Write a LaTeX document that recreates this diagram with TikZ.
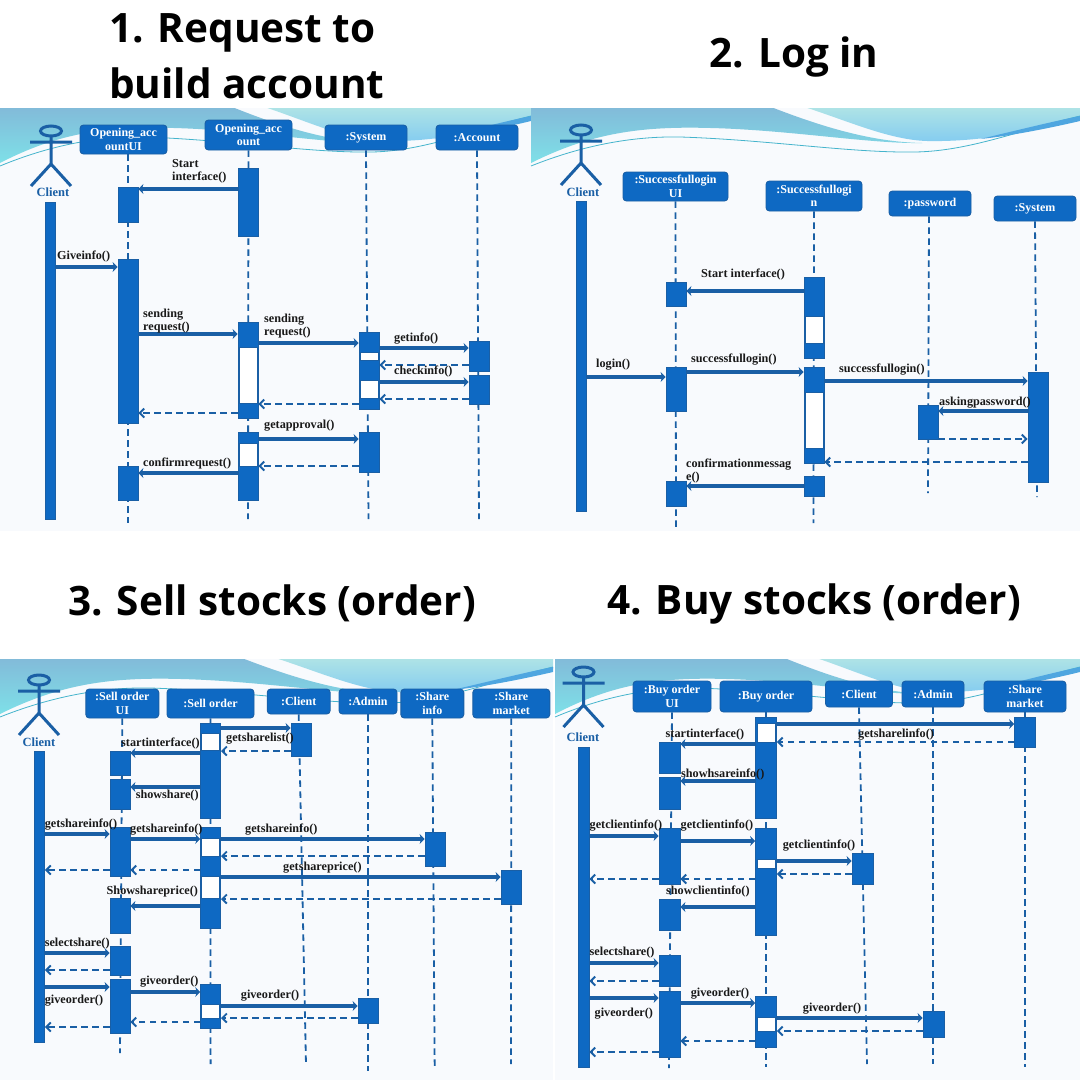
\documentclass[tikz,border=0pt]{standalone}
\usepackage{fontspec}
\usetikzlibrary{arrows.meta}
\newfontfamily\titlefont{Open Sans}
\newfontfamily\labelfont{Liberation Serif}
\definecolor{umlblue}{HTML}{0E69C3}
\definecolor{umledge}{HTML}{1A5FA5}
\definecolor{panelbg}{HTML}{F8FAFD}
\definecolor{waveA}{HTML}{82BBD9}
\definecolor{waveB}{HTML}{7EE0E8}
\definecolor{waveC}{HTML}{AEE3E6}
\definecolor{waveD}{HTML}{84CCF0}
\definecolor{waveE}{HTML}{45B4CC}
\definecolor{waveF}{HTML}{4FA6E0}
\tikzset{
  titletext/.style={font=\titlefont\bfseries\fontsize{40.5}{56}\selectfont,text=black,align=left,inner sep=0},
  headbox/.style={draw=umledge,fill=umlblue,line width=.9pt,rounded corners=3.5pt,text=white,align=center,inner sep=0,
    font=\labelfont\bfseries\fontsize{12}{13.5}\selectfont},
  lifeline/.style={draw=umledge,line width=1.8pt,dash pattern=on 6.5pt off 4.5pt},
  actbar/.style={draw=umledge,fill=umlblue,line width=.8pt,inner sep=0},
  gapbar/.style={draw=umledge,fill=white,line width=.8pt,inner sep=0},
  callmsg/.style={draw=umledge,line width=3.6pt,-{Stealth[length=5pt,width=10pt]}},
  backmsg/.style={draw=umledge,line width=1.9pt,dash pattern=on 6.5pt off 4.5pt,-{Straight Barb[length=4.5pt,width=9pt]}},
  msgtext/.style={font=\labelfont\bfseries\fontsize{12.2}{13}\selectfont,text=black!90,anchor=west,align=left,inner sep=0,yshift=-1.5pt},
  actortext/.style={font=\labelfont\bfseries\fontsize{12.5}{13}\selectfont,text=umledge,inner sep=0},
  actorline/.style={draw=umledge,line width=3pt}
}
\begin{document}
\begin{tikzpicture}[x=1pt,y=-1pt]
  \useasboundingbox (0,0) rectangle (1080,1080);
  \fill[white] (0,0) rectangle (1080,1080);

  % Panels with their wave header
  \foreach \px/\py/\pw/\ph in {0/108/531/423,531/108/549/423,0/659/553/421,555/659/525/421}{
    \fill[panelbg] (\px,\py) rectangle ++(\pw,\ph);
    \begin{scope}[shift={(\px,\py)},xscale=\pw/550]
      \shade[top color=waveA,bottom color=waveB]
        (0,0) -- (243,0) .. controls (290,18) and (340,34) .. (392,35)
        .. controls (340,36) and (260,22) .. (180,20) .. controls (110,18) and (60,25) .. (0,55) -- cycle;
      \shade[top color=waveC,bottom color=waveD]
        (277,0) -- (550,0) -- (550,10) .. controls (500,24) and (450,34) .. (397,33)
        .. controls (360,32) and (320,14) .. (277,0) -- cycle;
      \draw[waveE,line width=.8pt] (0,58) .. controls (50,38) and (100,28) .. (150,29)
        .. controls (240,32) and (320,45) .. (385,44) .. controls (440,43) and (490,22) .. (550,8);
      \fill[waveF] (450,31) .. controls (480,24) and (520,14) .. (550,8) -- (550,13)
        .. controls (520,20) and (480,28) .. (450,31) -- cycle;
    \end{scope}
  }

  % Titles
  \node[titletext,anchor=west] (title1) at (109,56) {1. Request to\\build account};
  \node[titletext] (title2) at (794,57) {2. Log in};
  \node[titletext] (title3) at (272,603) {3. Sell stocks (order)};
  \node[titletext] (title4) at (814,604) {4. Buy stocks (order)};

  % Actors
  \foreach \x/\y in {51/131,581/130,39/680,583.5/672}{
    \begin{scope}[shift={(\x,\y)}]
      \draw[actorline] (0,0) ellipse (10.5 and 5);
      \draw[actorline] (-21,11) -- (21,11) (0,5) -- (0,33) (-20,55) -- (0,33) -- (20,55);
    \end{scope}
  }
  \foreach \name/\x/\y in {reqClient/53/192,logClient/583/192,sellClient/39/742,buyClient/583/737}
    \node[actortext] (\name) at (\x,\y) {Client};

  % Column heads
  \node[headbox,minimum width=87,minimum height=29] (reqUI) at (123.5,139.5) {Opening\_acc\\ountUI};
  \node[headbox,minimum width=87,minimum height=30] (reqOpen) at (248.5,135) {Opening\_acc\\ount};
  \node[headbox,minimum width=82,minimum height=25] (reqSys) at (366,137.5) {:System};
  \node[headbox,minimum width=82,minimum height=25] (reqAcc) at (477,137.5) {:Account};
  \node[headbox,minimum width=105,minimum height=29] (logUI) at (675.5,186.5) {:Successfullogin\\UI};
  \node[headbox,minimum width=96,minimum height=30] (logOk) at (814,196) {:Successfullogi\\n};
  \node[headbox,minimum width=82,minimum height=25] (logPass) at (930,203.5) {:password};
  \node[headbox,minimum width=82,minimum height=25] (logSys) at (1035,208.5) {:System};
  \node[headbox,minimum width=73,minimum height=29] (sellUI) at (122.3,703.5) {:Sell order\\UI};
  \node[headbox,minimum width=87,minimum height=29] (sellOrd) at (210.5,703.5) {:Sell order};
  \node[headbox,minimum width=63,minimum height=25] (sellCli) at (298.7,701.5) {:Client};
  \node[headbox,minimum width=58,minimum height=25] (sellAdm) at (368,701.5) {:Admin};
  \node[headbox,minimum width=63,minimum height=29] (sellInfo) at (432.3,703.5) {:Share\\info};
  \node[headbox,minimum width=77,minimum height=29] (sellMkt) at (511.3,703.5) {:Share\\market};
  \node[headbox,minimum width=78,minimum height=31] (buyUI) at (672,696.5) {:Buy order\\UI};
  \node[headbox,minimum width=92,minimum height=31] (buyOrd) at (766,696.5) {:Buy order};
  \node[headbox,minimum width=67,minimum height=26] (buyCli) at (859,694) {:Client};
  \node[headbox,minimum width=62,minimum height=26] (buyAdm) at (933,694) {:Admin};
  \node[headbox,minimum width=82,minimum height=31] (buyMkt) at (1025,696.5) {:Share\\market};

  % Lifelines
  \foreach \name/\dx/\x/\y in {
    reqUI/4.5/128/523,reqOpen/0/248/519,reqSys/0/368.5/519,reqAcc/0/479/519,
    logUI/0/676/530,logOk/0/813.5/523,logPass/-1/928/493,logSys/0/1037/497,
    sellUI/0/120/1053,sellOrd/0/210.6/1064,sellCli/0/306/1065,sellAdm/0/368/1071,sellInfo/0/434.7/1070,sellMkt/0/511/1064,
    buyUI/0/669/1068,buyOrd/0/766/1067,buyCli/0/867/1064,buyAdm/0/933/1064,buyMkt/0/1025/1067
  }{
    \coordinate (\name End) at (\x,\y);
    \draw[lifeline] ([xshift=\dx]\name.south) -- (\name End);
  }

  % Activation bars, name/centre/top/bottom/width
  \foreach \name/\x/\ya/\yb/\bw in {
    reqCl/50/202/519/10,logCl/581/201/511/10,sellCl/39.3/751/1042/10.5,buyCl/583.5/747/1067/11,
    reqU1/128/187/222/20,reqU2/128/259/423/20,reqU3/128/466/500/20,
    reqO1/248/168/236/20,reqO2/248/322/418/20,reqO3/248/432/500/20,
    reqS1/369/332/409/20,reqS2/369/432/472/20,reqA1/479/341/371/20,reqA2/479/375/404/20,
    logU1/676/282/306/20,logU2/676/367/411/20,logU3/676/481/506/20,
    logO1/814/277/358/20,logO2/814/367/463/20,logO3/814/476/496/20,
    logP1/928/405/439/20,logS1/1038/372/482/20,
    sellU1/120/751/775/20,sellU2/120/779/809/20,sellU3/120/827/876/20,sellU4/120/898/933/20,sellU5/120/946/975/20,sellU6/120/979/1033/20,
    sellO1/210.6/723/818/20,sellO2/210.6/827/928/20,sellO3/210.6/984/1028/20,
    sellC1/301/723/756/20,sellI1/435/832/866/20,sellM1/511/870/904/20,sellA1/368/998/1023/20,
    buyU1/669.5/742/773/21,buyU2/669.5/777/809/21,buyU3/669.5/828/884/21,buyU4/669.5/899/930/21,buyU5/669.5/955/986/21,buyU6/669.5/991/1057/21,
    buyO1/766/717/818/21,buyO2/766/828/935/21,buyO3/766/996/1047/21,
    buyM1/1025/717/747/21,buyC1/862.5/853/884/21,buyA1/933.5/1011/1037/21
  }{
    \node[actbar,minimum width=\bw,minimum height=\yb-\ya] (\name) at (\x,{(\ya+\yb)/2}) {};
  }

  % White gaps in the bars
  \foreach \name/\ya/\yb in {
    reqO2/347/403,reqS1/352/360,reqS1/380/398,reqO3/443/466,
    logO1/316/343,logO2/392/448,
    sellO1/733/750,sellO2/838/856,sellO2/876/898,sellO3/1004/1018,
    buyO1/723/742,buyO2/859/868,buyO3/1017/1031
  }{
    \node[gapbar,minimum width=18,minimum height=\yb-\ya] (\name gap\ya) at (\name.center |- 0,{(\ya+\yb)/2}) {};
  }

  % Calls, from/to/height
  \foreach \from/\to/\y in {
    reqO1.west/reqU1.east/189,reqCl.east/reqU2.west/267,reqU2.east/reqO2.west/334,reqO2.east/reqS1.west/343,
    reqS1.east/reqA1.west/348,reqS1.east/reqA2.west/382,reqO3.east/reqS2.west/439,reqO3.west/reqU3.east/473,
    logO1.west/logU1.east/291,logCl.east/logU2.west/377,logU2.east/logO2.west/372,logO2.east/logS1.west/381,
    logS1.west/logP1.east/411,logO3.west/logU3.east/486,
    sellO1.east/sellC1.west/728,sellO1.west/sellU1.east/753,sellO1.west/sellU2.east/787,sellCl.east/sellU3.west/834,
    sellU3.east/sellO2.west/839,sellO2.east/sellI1.west/839,sellO2.east/sellM1.west/877,sellO2.west/sellU4.east/906,
    sellCl.east/sellU5.west/953,sellCl.east/sellU6.west/987,sellU6.east/sellO3.west/992,sellO3.east/sellA1.west/1006,
    buyO1.east/buyM1.west/724,buyO1.west/buyU1.east/744,buyO1.west/buyU2.east/781,buyCl.east/buyU3.west/836,
    buyU3.east/buyO2.west/841,buyO2.east/buyC1.west/861,buyO2.west/buyU4.east/907,buyCl.east/buyU5.west/963,
    buyCl.east/buyU6.west/998,buyU6.east/buyO3.west/1003,buyO3.east/buyA1.west/1018
  }{
    \draw[callmsg] (\from |- 0,\y) -- (\to |- 0,\y);
  }

  % Returns
  \foreach \from/\to/\y in {
    reqA1.west/reqS1.east/365,reqA2.west/reqS1.east/399,reqS1.west/reqO2.east/404,reqO2.west/reqU2.east/413,reqS2.west/reqO3.east/466,
    logP1.east/logS1.west/439,logS1.west/logO2.east/462,
    sellC1.west/sellO1.east/751,sellI1.west/sellO2.east/856,sellO2.west/sellU3.east/870,sellU3.west/sellCl.east/870,
    sellM1.west/sellO2.east/899,sellU5.west/sellCl.east/970,sellA1.west/sellO3.east/1018,sellO3.west/sellU6.east/1022,sellU6.west/sellCl.east/1027,
    buyM1.west/buyO1.east/742,buyC1.west/buyO2.east/874,buyO2.west/buyU3.east/879,buyU3.west/buyCl.east/879,
    buyU5.west/buyCl.east/981,buyA1.west/buyO3.east/1031,buyO3.west/buyU6.east/1041,buyU6.west/buyCl.east/1052
  }{
    \draw[backmsg] (\from |- 0,\y) -- (\to |- 0,\y);
  }

  % Message labels
  \node[msgtext] (reqT1) at (172,170) {Start\\interface()};
  \node[msgtext] (reqT2) at (57,255) {Giveinfo()};
  \node[msgtext] (reqT3) at (143,319.5) {sending\\request()};
  \node[msgtext] (reqT4) at (264,324.5) {sending\\request()};
  \node[msgtext] (reqT5) at (394,337) {getinfo()};
  \node[msgtext] (reqT6) at (394,370) {checkinfo()};
  \node[msgtext] (reqT7) at (264,424) {getapproval()};
  \node[msgtext] (reqT8) at (143,462) {confirmrequest()};
  \node[msgtext] (logT1) at (701,273) {Start interface()};
  \node[msgtext] (logT2) at (596,363) {login()};
  \node[msgtext] (logT3) at (691,358) {successfullogin()};
  \node[msgtext] (logT4) at (839,368) {successfullogin()};
  \node[msgtext] (logT5) at (939,401) {askingpassword()};
  \node[msgtext] (logT6) at (686,469.5) {confirmationmessag\\e()};
  \node[msgtext] (sellT1) at (226,737) {getsharelist()};
  \node[msgtext] (sellT2) at (121,742) {startinterface()};
  \node[msgtext] (sellT3) at (135.6,794) {showshare()};
  \node[msgtext] (sellT4) at (44.6,823) {getshareinfo()};
  \node[msgtext] (sellT5) at (130,828) {getshareinfo()};
  \node[msgtext] (sellT6) at (245,828) {getshareinfo()};
  \node[msgtext] (sellT7) at (283,866) {getshareprice()};
  \node[msgtext] (sellT8) at (106.5,890) {Showshareprice()};
  \node[msgtext] (sellT9) at (44.6,942) {selectshare()};
  \node[msgtext] (sellT10) at (44.6,999) {giveorder()};
  \node[msgtext] (sellT11) at (140,980) {giveorder()};
  \node[msgtext] (sellT12) at (240.7,994) {giveorder()};
  \node[msgtext] (buyT1) at (858,733) {getsharelinfo()};
  \node[msgtext] (buyT2) at (665.5,733) {startinterface()};
  \node[msgtext] (buyT3) at (681,773) {showhsareinfo()};
  \node[msgtext] (buyT4) at (589.5,824) {getclientinfo()};
  \node[msgtext] (buyT5) at (680.5,824) {getclientinfo()};
  \node[msgtext] (buyT6) at (782.6,844) {getclientinfo()};
  \node[msgtext] (buyT7) at (666,890) {showclientinfo()};
  \node[msgtext] (buyT8) at (589.5,951) {selectshare()};
  \node[msgtext] (buyT9) at (594.5,1012) {giveorder()};
  \node[msgtext] (buyT10) at (690.6,992) {giveorder()};
  \node[msgtext] (buyT11) at (802.7,1007) {giveorder()};
\end{tikzpicture}
\end{document}
